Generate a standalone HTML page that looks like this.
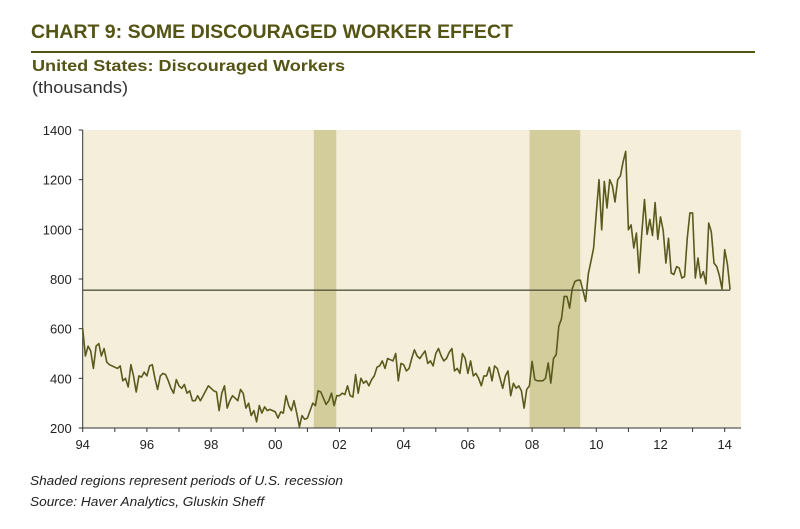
<!DOCTYPE html>
<html><head><meta charset="utf-8"><style>
body{margin:0;background:#fff;width:800px;height:524px;overflow:hidden;font-family:"Liberation Sans",sans-serif}
</style></head><body>
<svg id="chart" width="800" height="524" xmlns="http://www.w3.org/2000/svg">
<text x="31" y="38" font-size="19" font-weight="bold" fill="#545414" textLength="482" lengthAdjust="spacingAndGlyphs">CHART 9: SOME DISCOURAGED WORKER EFFECT</text>
<rect x="31" y="51" width="724" height="2" fill="#545414"/>
<text x="32" y="71" font-size="16" font-weight="bold" fill="#545414" textLength="313" lengthAdjust="spacingAndGlyphs">United States: Discouraged Workers</text>
<text x="32" y="93" font-size="17" fill="#333" textLength="96" lengthAdjust="spacingAndGlyphs">(thousands)</text>
<g id="plot"></g>
<text x="30" y="485" font-size="13" font-style="italic" fill="#222" textLength="313" lengthAdjust="spacingAndGlyphs">Shaded regions represent periods of U.S. recession</text>
<text x="30" y="506" font-size="13" font-style="italic" fill="#222" textLength="234" lengthAdjust="spacingAndGlyphs">Source: Haver Analytics, Gluskin Sheff</text>
</svg>
<script>
const startYear = 1994;
const values = [
600,490,530,510,440,530,540,490,520,465,455,450,
445,440,450,390,400,365,455,410,345,410,405,425,
410,450,455,400,355,410,420,415,390,360,340,395,
370,360,375,340,350,310,310,330,310,330,350,370,
360,350,345,270,340,370,280,310,330,320,310,355,
340,280,300,250,270,225,290,260,285,270,275,270,
265,240,265,260,330,290,270,310,260,205,250,235,
240,270,300,290,350,345,320,295,310,340,290,330,
330,340,335,370,330,325,415,340,400,380,390,370,
395,410,445,450,470,440,480,475,470,500,390,460,
455,430,440,480,515,490,480,495,510,460,470,450,
500,520,490,470,480,505,520,430,440,420,500,480,
420,470,410,420,400,370,410,410,445,390,450,440,
400,360,410,430,330,380,360,370,350,280,355,370,
468,395,390,390,390,400,462,381,480,495,610,640,
730,730,683,760,790,795,795,755,710,820,870,925,
1066,1200,998,1193,1086,1200,1175,1110,1200,1215,1270,1314,
998,1018,925,985,824,985,1120,980,1040,975,1108,960,
1050,995,864,964,824,818,850,844,804,810,962,1066,
1066,804,884,804,830,780,1025,990,864,850,815,760,
918,860,757];
const recessions = [[2001.2,2001.9],[2007.92,2009.5]];
const refValue = 755;
const yTicks = [200,400,600,800,1000,1200,1400];
const xTickYears = [1994,1996,1998,2000,2002,2004,2006,2008,2010,2012,2014];
const xTickLabels = ["94","96","98","00","02","04","06","08","10","12","14"];

const L=82.7,R=741,T=130,B=428,ppy=32.1;
const x=yr=>L+(yr-1994)*ppy;
const y=v=>B-(v-200)*(B-T)/1200;
const NS="http://www.w3.org/2000/svg";
const g=document.getElementById('plot');
function mk(tag,attrs){const e=document.createElementNS(NS,tag);for(const k in attrs)e.setAttribute(k,attrs[k]);g.appendChild(e);return e;}
let e=mk('rect',{x:L,y:T,width:R-L,height:B-T,fill:'#f4eedb'});


recessions.forEach(r=>{
 const el=mk('rect',{x:x(r[0]),y:T,width:x(r[1])-x(r[0]),height:B-T,fill:'#d3cd9b'});
 
 
});
yTicks.forEach(v=>{
 const t=mk('line',{x1:L-4,x2:L,y1:y(v),y2:y(v),stroke:'#333','stroke-width':1});
 
 
 const lb=mk('text',{x:L-11,y:y(v)+5,'font-size':13,'text-anchor':'end',fill:'#222'});
 lb.textContent=v;
 
 
});
for(let yr=1994;yr<=2014;yr++){
 const t=mk('line',{x1:x(yr),x2:x(yr),y1:B,y2:B+4,stroke:'#333','stroke-width':1});
 
 
}
xTickYears.forEach((yr,i)=>{
 const lb=mk('text',{x:x(yr),y:B+21,'font-size':13,'text-anchor':'middle',fill:'#222'});
 lb.textContent=xTickLabels[i];
 
 
});
e=mk('line',{x1:L,x2:L,y1:T,y2:B,stroke:'#333','stroke-width':1});


e=mk('line',{x1:L,x2:R,y1:B,y2:B,stroke:'#333','stroke-width':1});


const endX=x(startYear+(values.length-1)/12);
e=mk('line',{x1:L,x2:endX,y1:y(refValue),y2:y(refValue),stroke:'#55553a','stroke-width':1.3});


const pts=values.map((v,i)=>x(startYear+i/12).toFixed(1)+','+y(v).toFixed(1)).join(' ');
e=mk('polyline',{points:pts,fill:'none',stroke:'#5a5a1c','stroke-width':1.6,'stroke-linejoin':'round'});


</script>
</body></html>
